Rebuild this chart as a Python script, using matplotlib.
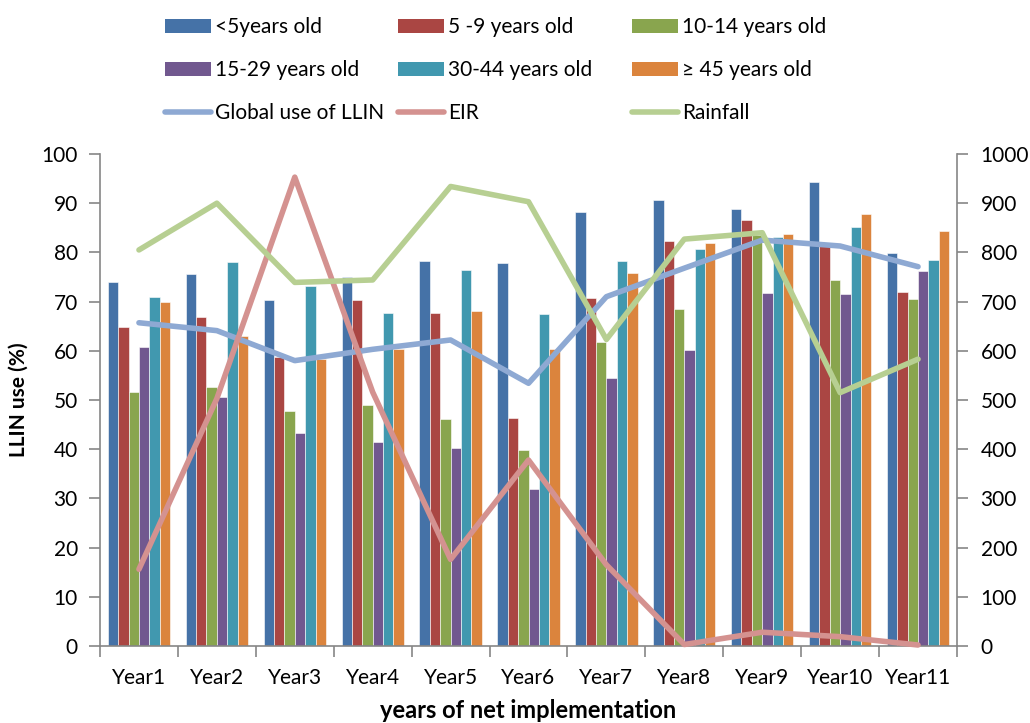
import numpy as np
import matplotlib.pyplot as plt
from matplotlib.lines import Line2D
from matplotlib.patches import Patch

plt.rcParams['font.family'] = ['Lato', 'DejaVu Sans']

years = ['Year1', 'Year2', 'Year3', 'Year4', 'Year5', 'Year6',
         'Year7', 'Year8', 'Year9', 'Year10', 'Year11']

# LLIN use (%) by age group
age_under5 = [73.9, 75.7, 70.3, 75.0, 78.3, 77.8, 88.2, 90.6, 88.8, 94.4, 79.8]
age_5_9 = [64.9, 66.9, 58.8, 70.4, 67.7, 46.4, 70.7, 82.3, 86.6, 81.2, 71.9]
age_10_14 = [51.6, 52.6, 47.8, 49.0, 46.2, 39.8, 61.7, 68.4, 83.5, 74.4, 70.5]
age_15_29 = [60.7, 50.7, 43.2, 41.5, 40.2, 31.9, 54.4, 60.2, 71.7, 71.5, 76.2]
age_30_44 = [70.9, 78.0, 73.2, 67.7, 76.5, 67.4, 78.3, 80.7, 83.1, 85.2, 78.4]
age_45plus = [69.9, 63.0, 58.3, 60.4, 68.1, 60.3, 75.9, 81.9, 83.7, 87.9, 84.3]

global_use = [65.7, 64.1, 58.0, 60.3, 62.2, 53.4, 71.0, 76.8, 82.5, 81.3, 77.1]
# right axis
eir = [156, 503, 953, 516, 176, 378, 165, 3, 28, 19, 2]
rainfall = [805, 900, 739, 744, 934, 903, 623, 827, 840, 515, 583]

bar_series = [age_under5, age_5_9, age_10_14, age_15_29, age_30_44, age_45plus]
bar_labels = ['<5years old', '5 -9 years old', '10-14 years old',
              '15-29 years old', '30-44 years old', '\u2265 45 years old']
bar_colors = ['#4572A7', '#AA4643', '#89A54E', '#71588F', '#4198AF', '#DB843D']
line_colors = {'global': '#8EA9D3', 'eir': '#D49290', 'rain': '#B7CF92'}
axis_gray = '#868686'

fig = plt.figure(figsize=(10.3, 7.23), dpi=100)
ax = fig.add_axes([100 / 1030, 77 / 723, 857 / 1030, 492 / 723])

x = np.arange(len(years))
w = 0.8 / 6
for i, (vals, col) in enumerate(zip(bar_series, bar_colors)):
    ax.bar(x + (i - 2.5) * w, vals, w, color=col, edgecolor='white',
           linewidth=0.4, zorder=2)

ax.plot(x, global_use, color=line_colors['global'], lw=4, zorder=3,
        solid_capstyle='round', clip_on=False)

ax.set_xlim(-0.5, len(years) - 0.5)
ax.set_ylim(0, 100)
ax.set_yticks(np.arange(0, 101, 10))
ax.set_xticks(np.arange(-0.5, len(years), 1))
ax.set_xticklabels([])
ax.set_xticks(x, minor=True)
ax.set_xticklabels(years, minor=True)
ax.tick_params(axis='x', which='major', length=8, width=1.2, color=axis_gray)
ax.tick_params(axis='x', which='minor', length=0, pad=16, labelsize=15)
ax.tick_params(axis='y', length=8, width=1.2, color=axis_gray, labelsize=15, pad=8)

for s in ['top', 'right']:
    ax.spines[s].set_visible(False)
for s in ['left', 'bottom']:
    ax.spines[s].set_color(axis_gray)
    ax.spines[s].set_linewidth(1.2)

ax.set_ylabel('LLIN use (%)', fontsize=15, fontweight='bold', labelpad=9)
ax.set_xlabel('years of net implementation', fontsize=17, fontweight='bold',
              labelpad=8)

ax2 = ax.twinx()
ax2.plot(x, eir, color=line_colors['eir'], lw=4, zorder=3,
         solid_capstyle='round', clip_on=False)
ax2.plot(x, rainfall, color=line_colors['rain'], lw=4, zorder=3,
         solid_capstyle='round', clip_on=False)
ax2.set_ylim(0, 1000)
ax2.set_yticks(np.arange(0, 1001, 100))
ax2.tick_params(axis='y', length=8, width=1.2, color=axis_gray, labelsize=15, pad=9)
for s in ['top', 'left', 'bottom']:
    ax2.spines[s].set_visible(False)
ax2.spines['right'].set_color(axis_gray)
ax2.spines['right'].set_linewidth(1.2)

# legend, three columns placed by hand
bar_handles = [Patch(facecolor=c) for c in bar_colors]
line_handles = [Line2D([], [], color=line_colors[k], lw=4, solid_capstyle='round')
                for k in ['global', 'eir', 'rain']]
line_labels = ['Global use of LLIN', 'EIR', 'Rainfall']
col_x = [165, 398, 632]
for c in range(3):
    hs = [bar_handles[c], bar_handles[c + 3], line_handles[c]]
    ls = [bar_labels[c], bar_labels[c + 3], line_labels[c]]
    fig.legend(hs, ls, loc='upper left', bbox_to_anchor=(col_x[c] / 1030, 1 - 17 / 723),
               frameon=False, fontsize=15, handlelength=2.2, handleheight=0.65,
               handletextpad=0.2, labelspacing=1.1, borderpad=0, borderaxespad=0)

fig.savefig('out.png', dpi=100)
